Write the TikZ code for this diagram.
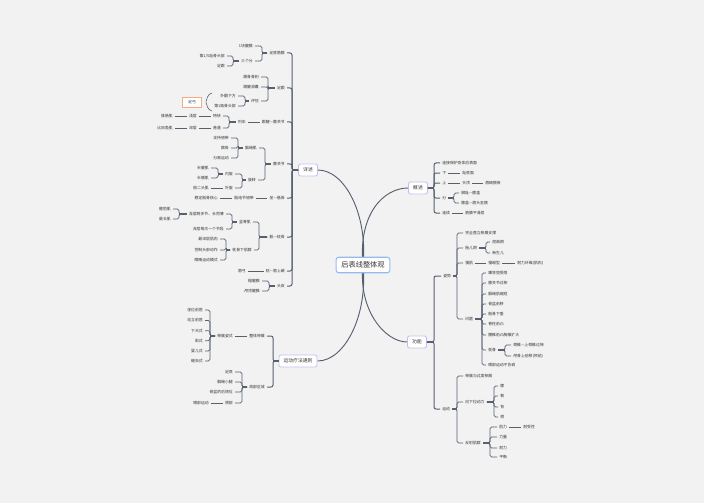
\documentclass[tikz,border=0pt]{standalone}
\usepackage{fontspec}
\newfontfamily\cjk{Noto Sans CJK SC}
\usetikzlibrary{backgrounds,calc}
\definecolor{bgc}{RGB}{242,242,242}
\definecolor{linec}{RGB}{88,96,112}
\definecolor{txtc}{RGB}{51,51,51}
\definecolor{rootline}{RGB}{150,185,240}
\definecolor{topicline}{RGB}{196,190,240}
\definecolor{summline}{RGB}{245,170,130}
\tikzset{
  leaf/.style={font=\cjk\fontsize{2.9}{3.4}\selectfont, text=txtc, inner xsep=1.5pt, inner ysep=0.5pt},
  lf/.style={leaf, anchor=east},
  rf/.style={leaf, anchor=west},
  topic/.style={draw=topicline, fill=white, rounded corners=1.5pt, line width=0.6pt,
                minimum height=9pt, inner xsep=3.5pt, inner ysep=0pt,
                font=\cjk\fontsize{3.6}{4.2}\selectfont, text=txtc},
  root/.style={draw=rootline, fill=white, rounded corners=2pt, line width=0.8pt,
               minimum height=11pt, inner xsep=4pt, font=\cjk\fontsize{5.4}{6}\selectfont, text=txtc},
  summ/.style={draw=summline, fill=white, line width=0.5pt, minimum width=14pt,
               minimum height=7.5pt, inner sep=1pt, font=\cjk\fontsize{2.9}{3.4}\selectfont, text=txtc},
  link/.style={draw=linec, line width=0.45pt, rounded corners=1.2pt},
  trunk/.style={draw=linec, line width=0.75pt, rounded corners=1.5pt},
  stub/.style={draw=linec, line width=1.3pt},
  curve/.style={draw=linec, line width=0.7pt},
}
% bracket to the left / right of a parent, bar at absolute x
\newcommand{\lbranch}[4][link]{%
  \foreach \ch in {#4}{\draw[#1] (#2.west) -- (#3,0 |- #2.west) |- (\ch.east);}
  \draw[stub] (#2.west) -- (#3,0 |- #2.west);}
\newcommand{\rbranch}[4][link]{%
  \foreach \ch in {#4}{\draw[#1] (#2.east) -- (#3,0 |- #2.east) |- (\ch.west);}
  \draw[stub] (#2.east) -- (#3,0 |- #2.east);}

\begin{document}
\begin{tikzpicture}[x=0.75pt,y=-0.75pt]
  \useasboundingbox (0,0) rectangle (704,503);

  \node[root]  (rt) at (363,265) {后表线整体观};
  \node[topic] (xs) at (308,170) {详述};
  \node[topic] (gs) at (418,188) {概述};
  \node[topic] (gn) at (417,342) {功能};
  \node[topic] (yd) at (298,361) {运动疗法通则};

  % 详述
  \node[lf] (s1) at (287,53)  {足底筋膜};
  \node[lf] (s2) at (287,88)  {足跟};
  \node[lf] (s3) at (287,122) {跟腱—膝关节};
  \node[lf] (s4) at (287,164) {膝关节};
  \node[lf] (s5) at (287,198) {坐—骶骨};
  \node[lf] (s6) at (287,237) {骶—枕骨};
  \node[lf] (s7) at (287,271) {枕—眉上嵴};
  \node[lf] (s8) at (287,286) {头皮};
  \lbranch[trunk]{xs}{292}{s1,s2,s3,s4,s5,s6,s7,s8}

  \node[lf] (a1)  at (255,46) {1块腱膜};
  \node[lf] (a2)  at (255,61) {三个分};
  \node[lf] (a21) at (227,56) {第1/5趾骨头部};
  \node[lf] (a22) at (227,66) {足跟};
  \lbranch{s1}{262}{a1,a2}
  \lbranch{a2}{233}{a21,a22}

  \node[lf] (b1)  at (261,77)  {跟骨骨刺};
  \node[lf] (b2)  at (261,87)  {跟腱滑囊};
  \node[lf] (b3)  at (261,101) {评估};
  \node[lf] (b31) at (238,96)  {外翻下方};
  \node[lf] (b32) at (238,106) {第1跖骨头部};
  \lbranch{s2}{268}{b1,b2,b3}
  \lbranch{b3}{245}{b31,b32}
  \node[summ] (zg) at (192,102) {足弓};
  \coordinate (bt) at (212,93);
  \coordinate (bp) at (205,102);
  \coordinate (bb) at (212,111);
  \draw[link] (bt) .. controls (207,94) and (207,100) .. (bp) .. controls (207,104) and (207,110) .. (bb);

  \node[lf] (c1)    at (248,122) {列车};
  \node[lf] (c11)   at (223,116) {特快};
  \node[lf] (c12)   at (223,128) {普通};
  \node[lf] (c111)  at (199,116) {浅层};
  \node[lf] (c121)  at (199,128) {深层};
  \node[lf] (c1111) at (175,116) {腓肠肌};
  \node[lf] (c1211) at (175,128) {比目鱼肌};
  \draw[link] (s3.west) -- (c1.east);
  \lbranch{c1}{229}{c11,c12}
  \draw[link] (c11.west) -- (c111.east);
  \draw[link] (c111.west) -- (c1111.east);
  \draw[link] (c12.west) -- (c121.east);
  \draw[link] (c121.west) -- (c1211.east);

  \node[lf] (d1)   at (259,148) {腘绳肌};
  \node[lf] (d2)   at (258,180) {旋转};
  \node[lf] (d11)  at (231,138) {支持韧带};
  \node[lf] (d12)  at (231,148) {髌骨};
  \node[lf] (d13)  at (231,158) {分离运动};
  \node[lf] (d21)  at (235,174) {内旋};
  \node[lf] (d22)  at (235,188) {外旋};
  \node[lf] (d211) at (211,168) {半腱肌};
  \node[lf] (d212) at (211,178) {半膜肌};
  \node[lf] (d221) at (211,188) {股二头肌};
  \lbranch{s4}{265}{d1,d2}
  \lbranch{d1}{238}{d11,d12,d13}
  \lbranch{d2}{242}{d21,d22}
  \lbranch{d21}{218}{d211,d212}
  \draw[link] (d22.west) -- (d221.east);

  \node[lf] (e1)  at (256,198) {骶结节韧带};
  \node[lf] (e11) at (220,198) {稳定骶骨核心};
  \draw[link] (s5.west) -- (e1.east);
  \draw[link] (e1.west) -- (e11.east);

  \node[lf] (f1)   at (253,222) {竖脊肌};
  \node[lf] (f2)   at (254,250) {枕骨下肌群};
  \node[lf] (f11)  at (226,214) {浅层跨多节、长而薄};
  \node[lf] (f12)  at (226,229) {深层每次一个节段};
  \node[lf] (f111) at (173,209) {髂肋肌};
  \node[lf] (f112) at (173,219) {最长肌};
  \node[lf] (f21)  at (220,239) {最深层肌肉};
  \node[lf] (f22)  at (220,250) {控制头部动作};
  \node[lf] (f23)  at (220,260) {眼睛运动模式};
  \lbranch{s6}{259}{f1,f2}
  \lbranch{f1}{232}{f11,f12}
  \lbranch{f11}{179}{f111,f112}
  \lbranch{f2}{226}{f21,f22,f23}

  \node[lf] (g1) at (248,271) {眉弓};
  \draw[link] (s7.west) -- (g1.east);

  \node[lf] (h1) at (262,281) {帽腱膜};
  \node[lf] (h2) at (262,291) {颅顶腱膜};
  \lbranch{s8}{269}{h1,h2}

  % 运动疗法通则
  \node[lf] (i1)  at (267,336) {整体伸展};
  \node[lf] (i2)  at (267,387) {局部区域};
  \node[lf] (i11) at (235,336) {伸展姿式};
  \lbranch[trunk]{yd}{273}{i1,i2}
  \draw[link] (i1.west) -- (i11.east);
  \node[lf] (i111) at (205,310)   {坐位前屈};
  \node[lf] (i112) at (205,320.5) {站立前屈};
  \node[lf] (i113) at (205,330.7) {下犬式};
  \node[lf] (i114) at (205,340.7) {犁式};
  \node[lf] (i115) at (205,351)   {婴儿式};
  \node[lf] (i116) at (205,361)   {蝗虫式};
  \lbranch{i11}{210}{i111,i112,i113,i114,i115,i116}
  \node[lf] (i21)  at (235,372) {足底};
  \node[lf] (i22)  at (235,382) {腘绳小腿};
  \node[lf] (i23)  at (235,392) {骨盆的后倾位};
  \node[lf] (i24)  at (235,403) {颈部};
  \node[lf] (i241) at (211,403) {眼部运动};
  \lbranch{i2}{242}{i21,i22,i23,i24}
  \draw[link] (i24.west) -- (i241.east);

  % 概述
  \node[rf] (j1) at (440,163) {连接保护身体后表面};
  \node[rf] (j2) at (440,173) {下};
  \node[rf] (j3) at (440,183) {上};
  \node[rf] (j4) at (440,198) {分};
  \node[rf] (j5) at (440,213) {连续};
  \rbranch[trunk]{gs}{434}{j1,j2,j3,j4,j5}
  \node[rf] (j21)  at (460,173) {趾底面};
  \node[rf] (j31)  at (460,183) {头顶};
  \node[rf] (j311) at (483,183) {眉嵴额骨};
  \node[rf] (j41)  at (459,193) {脚趾—膝盖};
  \node[rf] (j42)  at (459,203) {膝盖—眉头至额};
  \node[rf] (j51)  at (463,213) {筋膜平滑层};
  \draw[link] (j2.east) -- (j21.west);
  \draw[link] (j3.east) -- (j31.west);
  \draw[link] (j31.east) -- (j311.west);
  \rbranch{j4}{454}{j41,j42}
  \draw[link] (j5.east) -- (j51.west);

  % 功能
  \node[rf] (k1) at (441,276) {姿势};
  \node[rf] (k2) at (440,409) {运动};
  \rbranch[trunk]{gn}{434}{k1,k2}
  \node[rf] (k11) at (463,233) {完全直立伸展支撑};
  \node[rf] (k12) at (463,248) {胎儿期};
  \node[rf] (k13) at (463,263) {慢肌};
  \node[rf] (k14) at (463,319) {问题};
  \rbranch{k1}{457}{k11,k12,k13,k14}
  \node[rf] (k121)  at (490,242) {屈曲期};
  \node[rf] (k122)  at (490,253) {新生儿};
  \rbranch{k12}{486}{k121,k122}
  \node[rf] (k131)  at (486,263) {慢缩型};
  \node[rf] (k1311) at (515,263) {耐力纤维(肌肉)};
  \draw[link] (k13.east) -- (k131.west);
  \draw[link] (k131.east) -- (k1311.west);
  \node[rf] (k141) at (486,273) {踝背屈受限};
  \node[rf] (k142) at (486,283) {膝关节过伸};
  \node[rf] (k143) at (486,294) {腘绳肌缩短};
  \node[rf] (k144) at (486,304) {骨盆前移};
  \node[rf] (k145) at (486,314) {骶骨下垂};
  \node[rf] (k146) at (486,324) {脊柱前凸};
  \node[rf] (k147) at (486,335) {腰椎前凸胸椎扩大};
  \node[rf] (k148) at (486,350) {枕骨};
  \node[rf] (k149) at (486,365) {眼部运动不协调};
  \rbranch{k14}{482}{k141,k142,k143,k144,k145,k146,k147,k148,k149}
  \node[rf] (k1481) at (511,345) {颈椎—上颈椎过伸};
  \node[rf] (k1482) at (511,356) {颅骨上前移(颅前)};
  \rbranch{k148}{505}{k1481,k1482}

  \node[rf] (k21) at (463,376) {伸展与过度伸展};
  \node[rf] (k22) at (463,402) {向下拉动力};
  \node[rf] (k23) at (463,443) {反射肌群};
  \rbranch{k2}{457}{k21,k22,k23}
  \node[rf] (k221) at (498,386) {膝};
  \node[rf] (k222) at (498,396) {臀};
  \node[rf] (k223) at (498,407) {背};
  \node[rf] (k224) at (498,417) {颈};
  \rbranch{k22}{494}{k221,k222,k223,k224}
  \node[rf] (k231)  at (497,427) {肌力};
  \node[rf] (k232)  at (497,437) {力量};
  \node[rf] (k233)  at (497,448) {耐力};
  \node[rf] (k234)  at (497,457) {平衡};
  \node[rf] (k2311) at (521,427) {耐受性};
  \rbranch{k23}{490}{k231,k232,k233,k234}
  \draw[link] (k231.east) -- (k2311.west);

  \begin{scope}[on background layer]
    \fill[bgc] (0,0) rectangle (704,503);
    \draw[curve] (rt.center) .. controls (368,215) and (345,170) .. (xs.east);
    \draw[curve] (rt.center) .. controls (358,215) and (383,188) .. (gs.west);
    \draw[curve] (rt.center) .. controls (368,315) and (345,361) .. (yd.east);
    \draw[curve] (rt.center) .. controls (358,310) and (385,342) .. (gn.west);
  \end{scope}
\end{tikzpicture}
\end{document}
